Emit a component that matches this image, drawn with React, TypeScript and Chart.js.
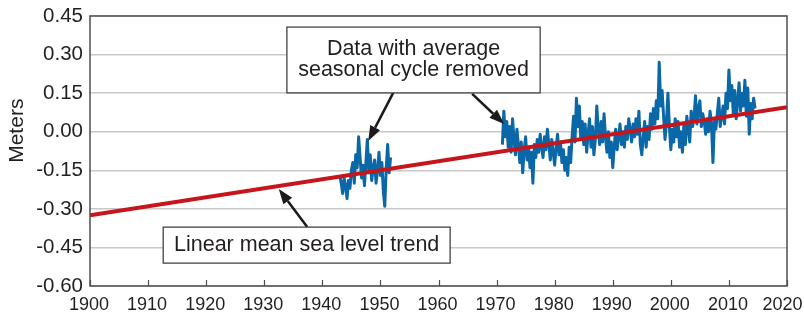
import React, { useEffect, useRef } from "react";
import { Chart, registerables } from "chart.js";

Chart.register(...registerables);

// ---------- data ----------
const xTickYears = [1900, 1910, 1920, 1930, 1940, 1950, 1960, 1970, 1980, 1990, 2000, 2010, 2020];
const yTickValues = [-0.6, -0.45, -0.3, -0.15, 0, 0.15, 0.3, 0.45];

const trendYears = [1900, 2020];
const trendValues = [-0.325, 0.095];

// quarterly sea level anomaly (m), seasonal cycle removed
const seg1StartYear = 1943;
const seg1Values = [
  -0.17, -0.20, -0.24, -0.18,
  -0.21, -0.26, -0.19, -0.22,
  -0.15, -0.12, -0.20, -0.09,
  -0.14, -0.02, -0.10, -0.18,
  -0.13, -0.21, -0.12, -0.03,
  -0.16, -0.09, -0.19, -0.14,
  -0.11, -0.20, -0.15, -0.08,
  -0.17, -0.12, -0.23, -0.29,
  -0.14, -0.05, -0.16, -0.10,
];

const seg2StartYear = 1971;
const seg2Values = [
  -0.05, 0.08, -0.02, 0.04,
  -0.06, 0.02, -0.08, 0.05,
  -0.03, -0.09, 0.01, -0.05,
  -0.12, -0.04, -0.16, -0.07,
  -0.02, -0.11, -0.06, -0.14,
  -0.08, -0.20, -0.05, -0.10,
  -0.03, -0.08, -0.01, -0.06,
  -0.10, -0.02, -0.07, 0.01,
  -0.05, -0.11, -0.03, -0.08,
  -0.13, -0.06, -0.01, -0.09,
  -0.04, -0.12, -0.07, -0.15,
  -0.10, -0.17, -0.06, -0.12,
  -0.02, 0.06, -0.04, 0.13,
  0.02, 0.10, -0.03, 0.04,
  -0.05, 0.03, -0.08, -0.01,
  0.05, -0.06, 0.02, -0.09,
  -0.03, 0.10, 0.01, -0.05,
  0.04, -0.04, 0.07, -0.02,
  -0.08, 0.00, -0.10, -0.04,
  -0.14, -0.06, 0.01, -0.07,
  -0.02, 0.03, -0.05, 0.00,
  -0.06, 0.02, -0.03, 0.05,
  0.01, -0.04, 0.03, -0.02,
  0.05, -0.01, 0.08, -0.05,
  -0.09, -0.02, 0.04, -0.06,
  0.02, -0.03, 0.07, 0.01,
  0.09, 0.03, 0.12, 0.05,
  0.27, 0.10, 0.16, 0.06,
  -0.03, 0.04, 0.15, 0.02,
  -0.07, 0.01, -0.04, 0.05,
  -0.02, 0.04, -0.06, 0.00,
  -0.08, 0.03, -0.05, 0.06,
  0.01, -0.04, 0.08, 0.02,
  0.06, 0.14, 0.03, 0.09,
  0.12, 0.02, 0.07, 0.04,
  -0.01, 0.05, 0.00, 0.08,
  0.03, -0.12, 0.04, 0.01,
  0.07, 0.13, 0.02, 0.06,
  0.10, 0.03, 0.15, 0.09,
  0.24, 0.12, 0.18, 0.07,
  0.16, 0.05, 0.12, 0.19,
  0.08, 0.15, 0.10, 0.20,
  0.06, 0.17, -0.01, 0.11,
  0.05, 0.13, 0.09,
];
const stepYears = 0.25;

const dataBoxLines = ["Data with average", "seasonal cycle removed"];
const trendBoxLines = ["Linear mean sea level trend"];
const yAxisTitle = "Meters";

// ---------- layout (in data coordinates) ----------
const box1 = { x1: 1933.9, x2: 1977.5, y1: 0.407, y2: 0.151 };
const box2 = { x1: 1912.6, x2: 1962.0, y1: -0.371, y2: -0.511 };
const arrows = [
  { fx: 1952.2, fy: 0.151, tx: 1947.9, ty: -0.036 },
  { fx: 1965.8, fy: 0.147, tx: 1971.3, ty: 0.03 },
  { fx: 1937.4, fy: -0.371, tx: 1932.5, ty: -0.223 },
];

const FONT = "'Liberation Sans', Arial, Helvetica, sans-serif";
const TEXT = "#231f20";
const W = 804;
const H = 318;

function toPoints(start: number, vals: number[]) {
  return vals.map((v, i) => ({ x: start + i * stepYears, y: v }));
}

function drawArrow(ctx: CanvasRenderingContext2D, x1: number, y1: number, x2: number, y2: number) {
  const ang = Math.atan2(y2 - y1, x2 - x1);
  const L = 15, HW = 5.5;
  const c = Math.cos(ang), s = Math.sin(ang);
  const bx = x2 - L * c, by = y2 - L * s;
  ctx.strokeStyle = "#1a1a1a";
  ctx.fillStyle = "#1a1a1a";
  ctx.lineWidth = 2.5;
  ctx.beginPath();
  ctx.moveTo(x1, y1);
  ctx.lineTo(bx, by);
  ctx.stroke();
  ctx.beginPath();
  ctx.moveTo(x2, y2);
  ctx.lineTo(bx + HW * s, by - HW * c);
  ctx.lineTo(bx - HW * s, by + HW * c);
  ctx.closePath();
  ctx.fill();
}

const decorPlugin = {
  id: "decor",
  afterDraw(chart: any) {
    const { ctx, chartArea: a, scales } = chart;
    const xs = scales.x, ys = scales.y;
    const px = (v: number) => xs.getPixelForValue(v);
    const py = (v: number) => ys.getPixelForValue(v);
    ctx.save();
    // frame
    ctx.strokeStyle = "#4d4d4d";
    ctx.lineWidth = 1.5;
    ctx.strokeRect(a.left, a.top, a.right - a.left, a.bottom - a.top);
    // inward x ticks
    ctx.lineWidth = 1.2;
    xTickYears.forEach((yr) => {
      const x = Math.round(px(yr)) + 0.5;
      ctx.beginPath();
      ctx.moveTo(x, a.bottom);
      ctx.lineTo(x, a.bottom - 6);
      ctx.stroke();
    });
    // x tick labels (kept inside the canvas)
    ctx.fillStyle = TEXT;
    ctx.font = `18px ${FONT}`;
    ctx.textAlign = "center";
    ctx.textBaseline = "middle";
    xTickYears.forEach((yr) => {
      const t = String(yr);
      const w = ctx.measureText(t).width;
      const x = Math.min(px(yr) - 1, chart.width - w / 2 - 1.5);
      ctx.fillText(t, x, a.bottom + 19);
    });
    // y title
    ctx.save();
    ctx.translate(17, py(0) - 1);
    ctx.rotate(-Math.PI / 2);
    ctx.fillStyle = TEXT;
    ctx.font = `21px ${FONT}`;
    ctx.textAlign = "center";
    ctx.textBaseline = "middle";
    ctx.fillText(yAxisTitle, 0, 0);
    ctx.restore();
    // arrows
    arrows.forEach((ar) => drawArrow(ctx, px(ar.fx), py(ar.fy), px(ar.tx), py(ar.ty)));
    // boxes
    const drawBox = (b: any, lines: string[], lh: number) => {
      const x1 = px(b.x1), x2 = px(b.x2), y1 = py(b.y1), y2 = py(b.y2);
      ctx.fillStyle = "#ffffff";
      ctx.fillRect(x1, y1, x2 - x1, y2 - y1);
      ctx.strokeStyle = "#333333";
      ctx.lineWidth = 1.2;
      ctx.strokeRect(x1, y1, x2 - x1, y2 - y1);
      ctx.fillStyle = TEXT;
      ctx.font = `21.5px ${FONT}`;
      ctx.textAlign = "center";
      ctx.textBaseline = "middle";
      const cx = (x1 + x2) / 2, cy = (y1 + y2) / 2;
      const n = lines.length;
      lines.forEach((t, i) => ctx.fillText(t, cx, cy + (i - (n - 1) / 2) * lh));
    };
    drawBox(box1, dataBoxLines, 21);
    drawBox(box2, trendBoxLines, 21);
    ctx.restore();
  },
};

export default function App() {
  const ref = useRef<HTMLCanvasElement | null>(null);
  useEffect(() => {
    if (!ref.current) return;
    const chart = new Chart(ref.current, {
      type: "line",
      data: {
        datasets: [
          {
            label: "trend",
            data: trendYears.map((x, i) => ({ x, y: trendValues[i] })),
            borderColor: "#c4161c",
            borderWidth: 4,
            pointRadius: 0,
            order: 0,
          },
          {
            label: "seg1",
            data: toPoints(seg1StartYear, seg1Values),
            borderColor: "#0a67a8",
            borderWidth: 3,
            pointRadius: 0,
            borderJoinStyle: "round",
            order: 1,
          },
          {
            label: "seg2",
            data: toPoints(seg2StartYear, seg2Values),
            borderColor: "#0a67a8",
            borderWidth: 3,
            pointRadius: 0,
            borderJoinStyle: "round",
            order: 1,
          },
        ],
      },
      options: {
        animation: false,
        responsive: false,
        events: [],
        layout: { padding: { left: 0, right: 17, top: 16, bottom: 0 } },
        plugins: { legend: { display: false }, tooltip: { enabled: false } },
        scales: {
          x: {
            type: "linear",
            min: 1900,
            max: 2020,
            afterBuildTicks: (s: any) => {
              s.ticks = xTickYears.map((v) => ({ value: v }));
            },
            afterFit: (s: any) => {
              s.height = 32;
              s.paddingLeft = 0;
              s.paddingRight = 0;
            },
            grid: { display: false, drawTicks: false },
            border: { display: false },
            ticks: { display: false },
          },
          y: {
            type: "linear",
            min: -0.6,
            max: 0.45,
            afterBuildTicks: (s: any) => {
              s.ticks = yTickValues.map((v) => ({ value: v }));
            },
            afterFit: (s: any) => {
              s.width = 90;
              s.paddingTop = 0;
              s.paddingBottom = 0;
            },
            grid: { color: "#c8c8c8", lineWidth: 1.5, drawTicks: false },
            border: { display: false },
            ticks: {
              color: TEXT,
              font: { size: 20.5, family: FONT },
              padding: 7,
              callback: (v: any) => (Math.abs(v) < 1e-9 ? "0.00" : Number(v).toFixed(2)),
            },
          },
        },
      },
      plugins: [decorPlugin],
    } as any);
    return () => chart.destroy();
  }, []);
  return (
    <div style={{ position: "fixed", left: 0, top: 0, width: W, height: H, background: "#ffffff" }}>
      <canvas ref={ref} width={W} height={H} style={{ display: "block" }} />
    </div>
  );
}
